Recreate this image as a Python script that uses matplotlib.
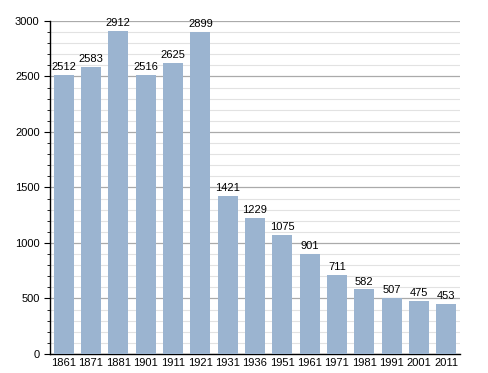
import matplotlib.pyplot as plt
import numpy as np

plt.rcParams["font.family"] = ["Liberation Sans", "DejaVu Sans"]

years = ["1861", "1871", "1881", "1901", "1911", "1921", "1931", "1936",
         "1951", "1961", "1971", "1981", "1991", "2001", "2011"]
population = [2512, 2583, 2912, 2516, 2625, 2899, 1421, 1229,
              1075, 901, 711, 582, 507, 475, 453]

fig = plt.figure(figsize=(4.88, 3.73), dpi=100)
ax = fig.add_axes([0.1025, 0.051, 0.84, 0.893])

x = np.arange(len(years))
ax.bar(x, population, width=0.74, color="#9bb4d0", zorder=3)

for xi, v in zip(x, population):
    ax.text(xi, v + 25, str(v), ha="center", va="bottom", fontsize=8, zorder=4)

ax.set_xlim(-0.5, len(years) - 0.5)
ax.set_ylim(0, 3000)
ax.set_yticks(np.arange(0, 3001, 500))
ax.set_yticks(np.arange(0, 3001, 100), minor=True)
ax.grid(axis="y", which="major", color="#aaaaaa", linewidth=0.9, zorder=1)
ax.grid(axis="y", which="minor", color="#e2e2e2", linewidth=0.8, zorder=1)

ax.set_xticks(x)
ax.set_xticklabels(years)
ax.tick_params(axis="x", length=0, labelsize=8, pad=3)
ax.tick_params(axis="y", which="major", length=4, labelsize=8, width=0.8)
ax.tick_params(axis="y", which="minor", length=2, width=0.6)

for side in ["top", "right"]:
    ax.spines[side].set_visible(False)
ax.spines["left"].set_linewidth(1)
ax.spines["bottom"].set_linewidth(1)

fig.savefig("out.png", dpi=100)
